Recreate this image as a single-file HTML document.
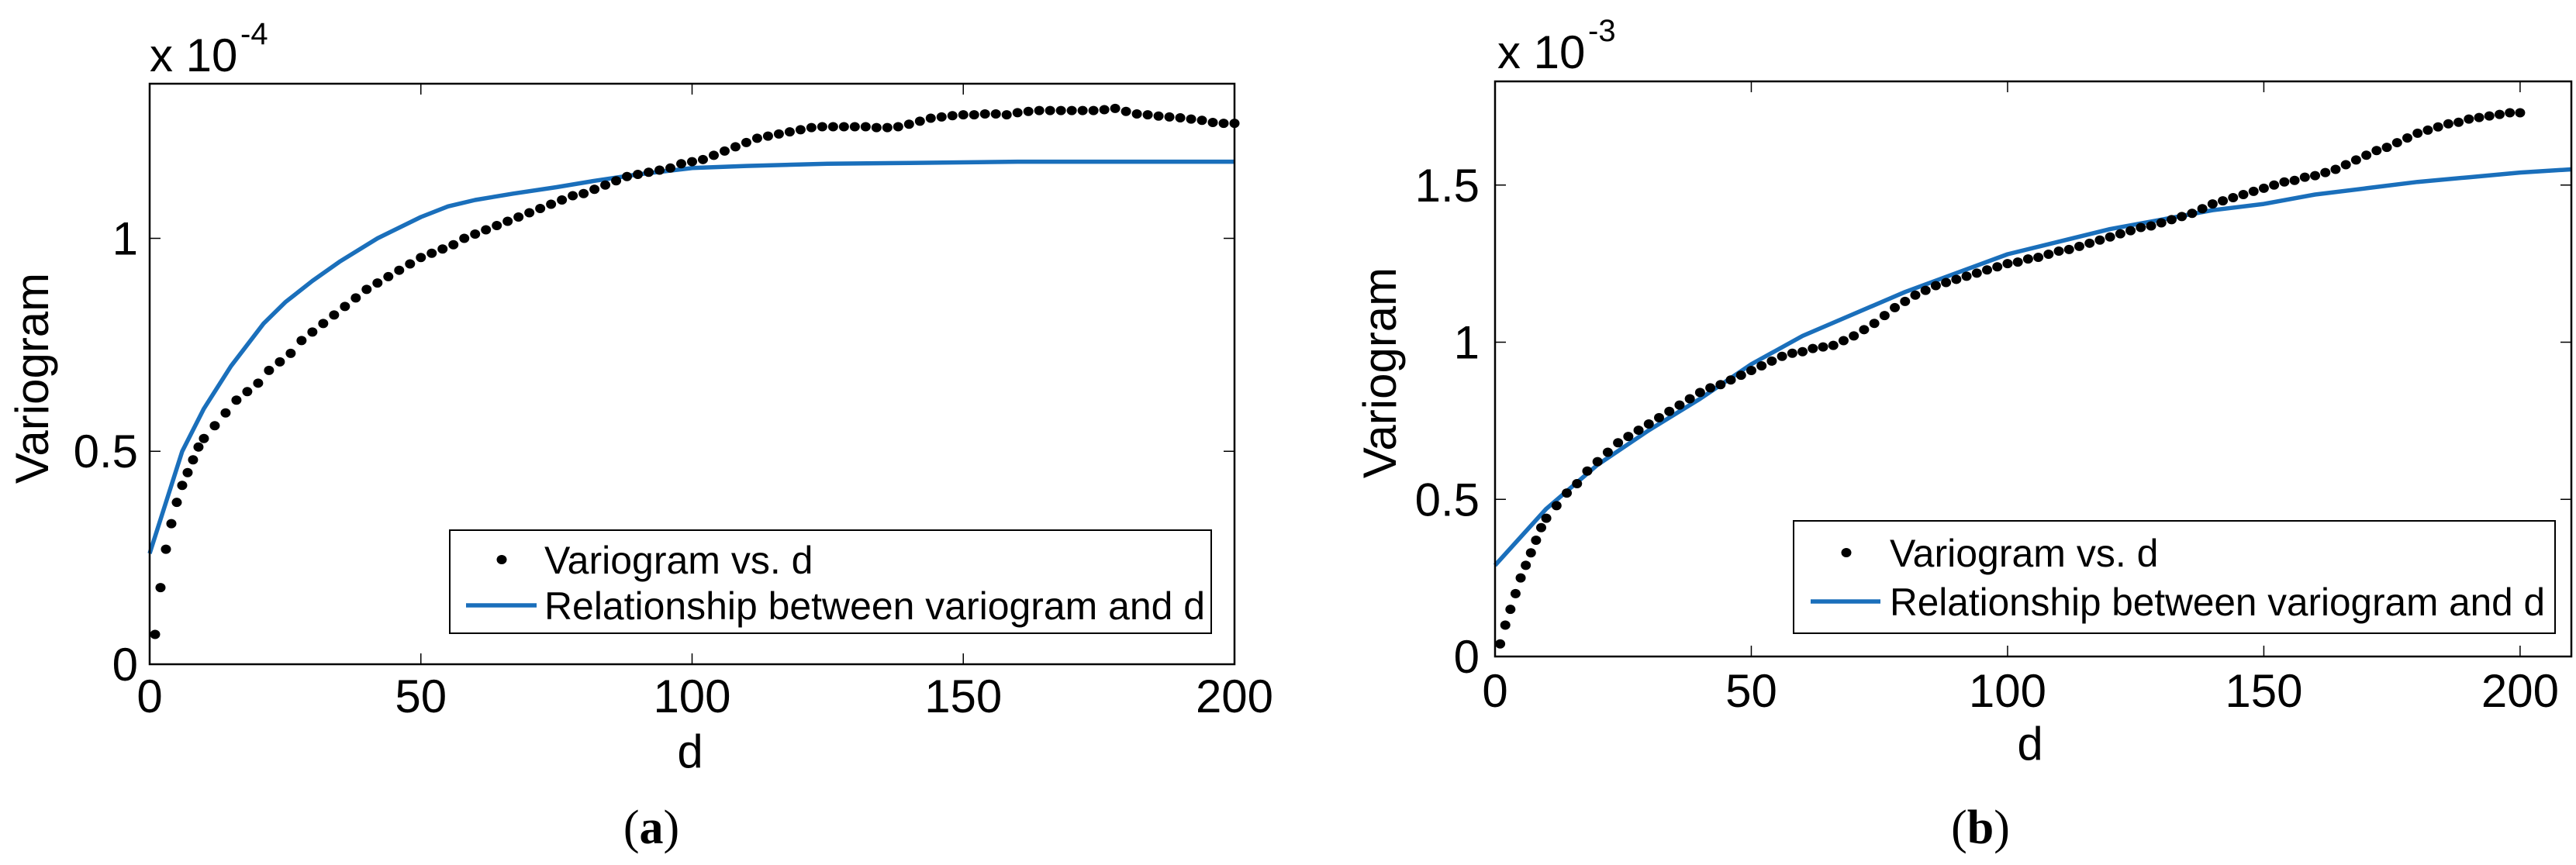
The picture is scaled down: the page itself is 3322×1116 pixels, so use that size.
<!DOCTYPE html>
<html><head><meta charset="utf-8">
<style>
html,body{margin:0;padding:0;background:#fff;}
svg{display:block;font-family:"Liberation Sans",Arial,sans-serif;}
</style></head>
<body>
<svg id="fig" width="3322" height="1116" viewBox="0 0 3322 1116" xmlns="http://www.w3.org/2000/svg">
<rect width="3322" height="1116" fill="#fff"/>
</svg>
<script>
// ---- Chart (a) data (units 1e-4) ----
const aDotD = [1,2,3,4,5,6,7,8,9,10,12,14,16,18,20,22,24,26,28,30,32,34,36,38,40,42,44,46,48,50,52,54,56,58,60,62,64,66,68,70,72,74,76,78,80,82,84,86,88,90,92,94,96,98,100,102,104,106,108,110,112,114,116,118,120,122,124,126,128,130,132,134,136,138,140,142,144,146,148,150,152,154,156,158,160,162,164,166,168,170,172,174,176,178,180,182,184,186,188,190,192,194,196,198,200];
const aDotV = [.07,.18,.27,.33,.38,.42,.45,.48,.51,.53,.56,.59,.62,.64,.66,.69,.71,.73,.76,.78,.80,.82,.84,.86,.88,.895,.91,.925,.94,.955,.965,.975,.985,1.0,1.01,1.02,1.03,1.04,1.05,1.06,1.07,1.08,1.09,1.10,1.105,1.115,1.125,1.135,1.145,1.15,1.155,1.16,1.165,1.175,1.18,1.185,1.195,1.205,1.215,1.225,1.235,1.24,1.245,1.25,1.255,1.26,1.262,1.262,1.262,1.262,1.262,1.26,1.26,1.262,1.268,1.275,1.282,1.285,1.288,1.29,1.29,1.292,1.292,1.29,1.295,1.298,1.30,1.30,1.30,1.30,1.30,1.30,1.302,1.305,1.298,1.292,1.29,1.287,1.285,1.283,1.28,1.277,1.272,1.27,1.27];
const aFitD = [0,3,6,10,15,21,25,30,35,42,50,55,60,67,75,82,90,100,110,125,140,160,180,200];
const aFitV = [.26,.38,.50,.60,.70,.80,.85,.90,.945,1.0,1.05,1.075,1.09,1.105,1.12,1.135,1.15,1.165,1.17,1.175,1.177,1.18,1.18,1.18];
const aXTicks = [0,50,100,150,200];
const aYTicks = [0,0.5,1];
const aYLabels = ["0","0.5","1"];

// ---- Chart (b) data (units 1e-3) ----
const bDotD = [1,2,3,4,5,6,7,8,9,10,12,14,16,18,20,22,24,26,28,30,32,34,36,38,40,42,44,46,48,50,52,54,56,58,60,62,64,66,68,70,72,74,76,78,80,82,84,86,88,90,92,94,96,98,100,102,104,106,108,110,112,114,116,118,120,122,124,126,128,130,132,134,136,138,140,142,144,146,148,150,152,154,156,158,160,162,164,166,168,170,172,174,176,178,180,182,184,186,188,190,192,194,196,198,200];
const bDotV = [.04,.10,.15,.20,.25,.29,.33,.37,.41,.44,.48,.52,.55,.59,.62,.65,.68,.70,.72,.74,.76,.78,.80,.82,.84,.855,.865,.88,.895,.91,.925,.94,.955,.965,.97,.98,.985,.99,1.005,1.02,1.04,1.06,1.085,1.11,1.13,1.15,1.165,1.18,1.19,1.20,1.21,1.22,1.23,1.24,1.25,1.255,1.265,1.27,1.28,1.29,1.295,1.305,1.315,1.325,1.335,1.345,1.355,1.365,1.37,1.38,1.39,1.40,1.41,1.425,1.44,1.45,1.46,1.47,1.48,1.49,1.50,1.51,1.515,1.525,1.53,1.54,1.55,1.565,1.58,1.595,1.61,1.62,1.635,1.65,1.665,1.675,1.685,1.695,1.70,1.71,1.715,1.72,1.725,1.73,1.73];
const bFitD = [0,10,20,30,40,50,60,70,80,90,100,110,120,130,140,150,160,170,180,190,200,210];
const bFitV = [.29,.47,.61,.72,.82,.93,1.02,1.09,1.16,1.22,1.28,1.32,1.36,1.39,1.42,1.44,1.47,1.49,1.51,1.525,1.54,1.55];
const bXTicks = [0,50,100,150,200];
const bYTicks = [0,0.5,1,1.5];
const bYLabels = ["0","0.5","1","1.5"];

const NS = "http://www.w3.org/2000/svg";
const svg = document.getElementById('fig');
function mk(tag, attrs, parent, text){
  const e = document.createElementNS(NS, tag);
  for (const k in attrs) e.setAttribute(k, attrs[k]);
  if (text !== undefined) e.textContent = text;
  (parent || svg).appendChild(e);
  return e;
}

function chart(cfg){
  const g = mk('g', {});
  
  
  const X = v => cfg.x0 + (v - cfg.xmin) / (cfg.xmax - cfg.xmin) * (cfg.x1 - cfg.x0);
  const Y = v => cfg.y1 - (v - cfg.ymin) / (cfg.ymax - cfg.ymin) * (cfg.y1 - cfg.y0);
  cfg.xt.forEach(t => {
    const x = X(t);
    const tk = mk('path', {d:`M${x},${cfg.y1}v-14M${x},${cfg.y0}v14`, stroke:'#000','stroke-width':1.5, fill:'none'}, g);
    
    
    const lb = mk('text', {x:x, y:cfg.xtY, 'font-size':60, 'text-anchor':'middle'}, g, String(t));
    
    
  });
  cfg.yt.forEach((t, i) => {
    const y = Y(t);
    const tk = mk('path', {d:`M${cfg.x0},${y}h14M${cfg.x1},${y}h-14`, stroke:'#000','stroke-width':1.5, fill:'none'}, g);
    
    
    const lb = mk('text', {x:cfg.ytX, y:y + 21, 'font-size':60, 'text-anchor':'end'}, g, cfg.yl[i]);
    
    
  });
  const pts = cfg.fd.map((d, i) => `${X(d).toFixed(1)},${Y(cfg.fv[i]).toFixed(1)}`).join(' ');
  const fl = mk('polyline', {points:pts, fill:'none', stroke:'#1a6fbb', 'stroke-width':5.5, 'stroke-linejoin':'round'}, g);
  
  
  cfg.dd.forEach((d, i) => {
    const c = mk('ellipse', {cx:X(d), cy:Y(cfg.dv[i]), rx:6.5, ry:6, fill:'#000'}, g);
    
    
  });
  const bx = mk('rect', {x:cfg.x0, y:cfg.y0, width:cfg.x1 - cfg.x0, height:cfg.y1 - cfg.y0, fill:'none', stroke:'#000', 'stroke-width':2.5}, g);
  
  
  const L = cfg.leg;
  const lg = mk('g', {}, g);
  
  
  mk('rect', {x:L.x, y:L.y, width:L.w, height:L.h, fill:'#fff', stroke:'#000', 'stroke-width':2}, lg);
  mk('ellipse', {cx:L.dotX, cy:L.r1, rx:6.5, ry:6, fill:'#000'}, lg);
  mk('text', {x:L.tx, y:L.r1 + 18, 'font-size':50}, lg, 'Variogram vs. d');
  mk('line', {x1:L.lx0, x2:L.lx1, y1:L.r2, y2:L.r2, stroke:'#1a6fbb', 'stroke-width':5.5}, lg);
  mk('text', {x:L.tx, y:L.r2 + 18, 'font-size':50, textLength:L.tl, lengthAdjust:'spacingAndGlyphs'}, lg, 'Relationship between variogram and d');
  const xl = mk('text', {x:cfg.xlX, y:cfg.xlY, 'font-size':60, 'text-anchor':'middle'}, g, 'd');
  
  
  const yl = mk('text', {x:0, y:0, 'font-size':60, 'text-anchor':'middle', transform:`translate(${cfg.ylX},${cfg.ylY}) rotate(-90)`}, g, 'Variogram');
  
  
  const ex = mk('text', {x:cfg.exX, y:cfg.exY, 'font-size':60}, g, 'x 10');
  
  
  mk('text', {x:cfg.exX + 117, y:cfg.exY - 35, 'font-size':40}, g, cfg.exp);
  const cap = mk('text', {x:cfg.capX, y:1088, 'font-size':62, 'text-anchor':'middle', 'font-family':'"Liberation Serif",serif'}, g);
  mk('tspan', {}, cap, '(');
  mk('tspan', {'font-weight':'bold'}, cap, cfg.cap);
  mk('tspan', {}, cap, ')');
  
  
}

chart({name:'chart-a', x0:193, x1:1592, y0:108, y1:857, xmin:0, xmax:200, ymin:0, ymax:1.363,
  xt:aXTicks, yt:aYTicks, yl:aYLabels, xtY:919, ytX:178,
  dd:aDotD, dv:aDotV, fd:aFitD, fv:aFitV,
  leg:{x:580, y:684, w:982, h:133, dotX:647, r1:722, r2:781, tx:702, lx0:601, lx1:692, tl:852},
  xlX:890, xlY:990, ylX:62, ylY:488, exX:193, exY:92, exp:'-4', capX:840, cap:'a'});

chart({name:'chart-b', x0:1928, x1:3316, y0:105, y1:847, xmin:0, xmax:210, ymin:0, ymax:1.83,
  xt:bXTicks, yt:bYTicks, yl:bYLabels, xtY:912, ytX:1908,
  dd:bDotD, dv:bDotV, fd:bFitD, fv:bFitV,
  leg:{x:2313, y:672, w:982, h:145, dotX:2381, r1:713, r2:776, tx:2437, lx0:2335, lx1:2425, tl:845},
  xlX:2618, xlY:980, ylX:1800, ylY:481, exX:1931, exY:88, exp:'-3', capX:2554, cap:'b'});
</script>
</body></html>
